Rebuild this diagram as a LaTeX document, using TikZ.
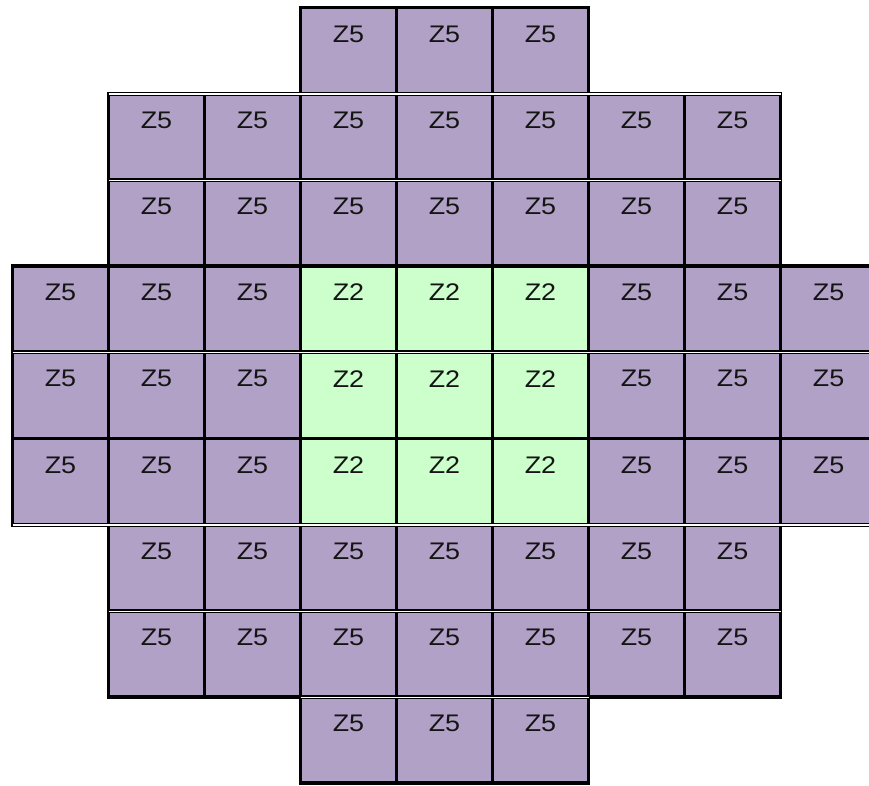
\documentclass[tikz,border=0pt]{standalone}
\usepackage{graphicx}
\usepackage{fontspec}
\setmainfont{Liberation Sans}
\definecolor{zpurple}{RGB}{178,161,199}
\definecolor{zgreen}{RGB}{204,255,204}
\tikzset{
  cell/.style={rectangle, draw=black, line width=3.7pt, minimum width=96pt, minimum height=86.2pt, inner sep=0pt, outer sep=0pt},
  lab/.style={inner sep=0pt, font=\fontsize{24}{24}\selectfont, text=black!92},
  gap/.style={draw=white, line width=1.3pt, line cap=butt}
}
\begin{document}
\begin{tikzpicture}[x=1pt, y=-1pt]
\clip (0,0) rectangle (869,785);
\fill[white] (0,0) rectangle (869,785);
\foreach \r/\cmin/\cmax in {0/3/5, 1/1/7, 2/1/7, 3/0/8, 4/0/8, 5/0/8, 6/1/7, 7/1/7, 8/3/5}{
  \foreach \c in {\cmin,...,\cmax}{
    \pgfmathtruncatemacro\isg{(\r>2)&&(\r<6)&&(\c>2)&&(\c<6)}
    \ifnum\isg=1 \def\fc{zgreen}\def\tx{Z2}\else\def\fc{zpurple}\def\tx{Z5}\fi
    \node[cell, fill=\fc] (c-\r-\c) at ({60.5+96*\c}, {50.6+86.2*\r}) {};
    \node[lab] (t-\r-\c) at ([yshift=-26.5pt]c-\r-\c.north) {\scalebox{1.12}[1]{\tx}};
  }
}
% double-line separators
\draw[gap] ([yshift=-0.3pt]c-1-1.north west) -- ([yshift=-0.3pt]c-1-7.north east);
\draw[gap] ([yshift=-0.3pt]c-2-1.north west) -- ([yshift=-0.3pt]c-2-7.north east);
\draw[gap] ([yshift=-0.3pt]c-4-0.north west) -- ([yshift=-0.3pt]c-4-8.north east);
\draw[gap] ([yshift=-0.3pt]c-5-0.south west) -- ([yshift=-0.3pt]c-5-8.south east);
\draw[gap] ([yshift=-0.3pt]c-7-1.north west) -- ([yshift=-0.3pt]c-7-7.north east);
\draw[gap] ([yshift=-0.3pt]c-8-3.north west) -- ([yshift=-0.3pt]c-8-5.north east);
\end{tikzpicture}
\end{document}
